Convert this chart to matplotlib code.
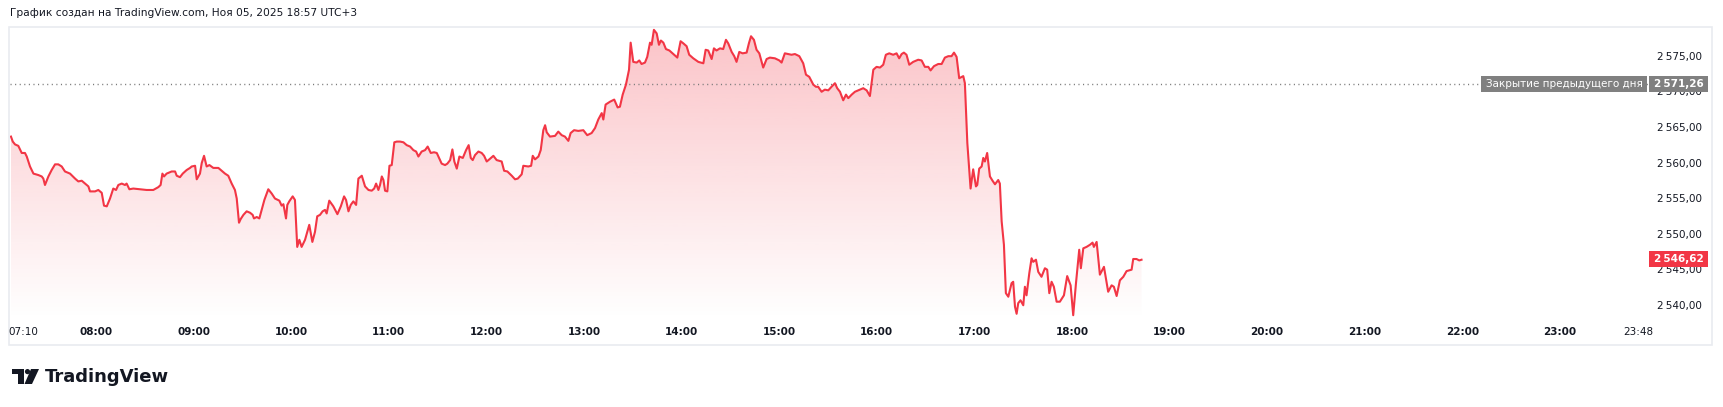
import numpy as np
import matplotlib.pyplot as plt
from matplotlib.patches import Rectangle, Polygon, Circle
from matplotlib.transforms import blended_transform_factory
from matplotlib.colors import to_rgb

plt.rcParams['font.family'] = ['DejaVu Sans']

W, H = 1724, 407
RED = '#f23645'
GRAY = '#808080'
TEXT = '#131722'

title = 'График создан на TradingView.com, Ноя 05, 2025 18:57 UTC+3'
prev_close = 2571.26
last_price = 2546.62
price_ticks = [2540, 2545, 2550, 2555, 2560, 2565, 2570, 2575]
time_ticks = ['07:10', '08:00', '09:00', '10:00', '11:00', '12:00', '13:00', '14:00', '15:00',
              '16:00', '17:00', '18:00', '19:00', '20:00', '21:00', '22:00', '23:00', '23:48']

# minutes after 07:00
minutes = [
    7.7, 8.8, 10.2, 12.2, 14.3, 16.3, 17.4, 19.4, 21.5, 24.5, 26.6, 27.6, 28.6, 30.7, 32.7, 34.8,
    36.8, 38.9, 40.9, 44.0, 47.1, 49.1, 51.2, 53.2, 55.3, 56.3, 59.4, 61.4, 63.5, 64.9, 66.6, 68.6,
    70.6, 72.3, 73.7, 75.8, 77.8, 78.8, 80.5, 82.9, 87.0, 91.1, 95.2, 98.3, 99.7, 100.8, 101.8, 103.4,
    106.5, 108.6, 109.6, 111.6, 113.3, 115.7, 117.8, 118.8, 120.9, 121.9, 123.9, 125.0, 126.4, 128.0,
    129.7, 132.1, 135.2, 137.2, 139.3, 141.3, 143.4, 145.4, 146.5, 147.9, 148.9, 150.6, 152.6, 154.7,
    156.3, 157.1, 158.8, 160.4, 161.8, 163.5, 165.9, 168.0, 170.0, 172.7, 174.1, 175.2, 176.8, 177.6,
    178.8, 180.9, 182.3, 183.7, 185.0, 186.4, 188.5, 191.1, 193.0, 194.6, 196.0, 197.7, 199.3, 200.8,
    201.8, 203.4,
    205.9, 208.4, 210.5, 212.5, 213.7, 215.2, 216.6, 218.2, 219.9, 221.3, 223.4, 225.4, 227.5, 229.5,
    231.0, 232.2, 233.6, 234.6, 235.7, 236.7, 237.7, 239.1, 240.4, 241.8, 243.4, 244.9, 246.9, 249.0,
    251.0, 253.1, 255.1, 256.8, 258.2, 260.2, 262.3, 263.9, 265.8, 267.8, 269.5, 272.5, 274.6, 276.0,
    277.7, 279.1, 280.3, 281.8, 283.4, 285.5, 287.5, 289.1, 290.4, 291.6, 293.0, 295.1, 297.1, 298.6,
    300.2, 301.8, 304.3, 306.3, 309.4, 310.9, 312.9, 315.6, 317.6, 319.3, 321.7, 322.7, 325.8, 327.5,
    328.5, 329.9, 332.0, 333.4, 335.0, 336.1, 337.1, 339.1,
    342.2, 344.2, 346.3, 348.3, 350.4, 351.8, 353.9, 356.5, 359.6, 362.0, 364.7, 366.8, 368.8, 370.9,
    371.9, 373.3, 376.0, 378.6, 380.7, 382.1, 383.8, 385.8, 387.7, 388.7, 390.3, 392.4, 394.0, 395.4,
    397.5, 398.9, 400.6, 401.6, 403.0, 404.7, 406.1, 407.3, 408.8, 410.4, 412.5, 414.9, 417.4, 419.4,
    421.1, 423.1, 424.7, 427.2, 430.3, 433.4, 434.8, 436.4, 438.5, 439.9, 441.5, 443.6, 445.6, 447.3,
    448.7, 450.8, 452.4, 453.8, 455.5, 457.5, 460.0, 461.4, 462.7, 464.5, 466.1, 467.8, 470.2, 472.3,
    474.3, 477.4, 480.1, 481.5, 483.5, 485.6, 487.6, 489.7, 492.4, 494.8, 496.5, 498.5, 501.0, 502.6,
    504.0, 506.1, 508.1, 510.2, 512.2, 514.3, 515.7, 517.4, 519.4, 521.1, 522.5, 524.6, 526.6, 528.6,
    531.7, 533.8, 535.8, 537.9, 539.9, 542.0, 544.0, 545.6, 547.7, 550.1, 552.2, 553.8, 555.3, 556.7,
    558.3, 560.0, 562.4, 565.5, 567.6, 569.6, 571.7, 573.1, 575.2, 577.8, 579.9, 581.9, 584.0, 586.0,
    587.5, 589.1, 590.7, 593.2, 594.2,
    595.7, 596.9, 597.7, 599.3, 601.0, 601.8, 603.0, 604.5, 605.5, 606.5, 607.9, 609.6, 611.2, 612.7,
    614.7, 615.7, 616.8, 618.2, 619.4, 620.9, 622.9, 623.9, 625.0, 626.0, 627.0, 628.4, 630.1, 631.1,
    632.1, 633.8, 635.2, 636.2, 637.9, 639.3, 641.3, 643.4, 644.8, 646.1, 647.5, 648.9, 650.6, 652.6,
    655.1, 657.1, 659.2, 660.8, 662.5, 664.5, 665.5, 667.0, 669.0, 671.1, 672.7, 673.5, 675.2, 677.2,
    679.7, 682.3, 684.4, 685.8, 687.5, 689.5, 691.6, 693.6, 696.7, 697.7, 699.7, 701.4, 702.8,
]

prices = [
    2563.8, 2563.1, 2562.7, 2562.5, 2561.5, 2561.5, 2561.0, 2559.6, 2558.6, 2558.4, 2558.2, 2557.9,
    2557.0, 2558.2, 2559.1, 2559.9, 2559.9, 2559.6, 2558.9, 2558.6, 2557.9, 2557.5, 2557.6, 2557.2,
    2556.8, 2556.1, 2556.1, 2556.3, 2555.9, 2554.1, 2554.0, 2555.1, 2556.5, 2556.3, 2557.0, 2557.2,
    2557.0, 2557.2, 2556.4, 2556.5, 2556.4, 2556.3, 2556.3, 2556.7, 2557.0, 2558.6, 2558.2, 2558.6,
    2558.9, 2558.9, 2558.3, 2558.1, 2558.6, 2559.1, 2559.4, 2559.6, 2559.7, 2557.8, 2558.6, 2560.1,
    2561.1, 2559.6, 2559.8, 2559.4, 2559.4, 2559.0, 2558.6, 2558.3, 2557.2, 2556.3, 2555.1, 2551.7,
    2552.2, 2552.8, 2553.3, 2553.1, 2552.8, 2552.3, 2552.5, 2552.3, 2553.5, 2554.9, 2556.4, 2555.8,
    2555.1, 2554.8, 2554.1, 2554.3, 2552.3, 2554.2, 2554.7, 2555.4, 2554.9, 2548.3, 2549.3, 2548.3,
    2549.3, 2551.4, 2549.0, 2550.4, 2552.6, 2552.8, 2553.3, 2553.5, 2553.0, 2554.8,
    2554.0, 2552.9, 2554.0, 2555.4, 2554.9, 2553.3, 2554.2, 2554.7, 2554.2, 2557.9, 2558.3, 2556.8,
    2556.3, 2556.2, 2556.5, 2557.2, 2556.3, 2557.0, 2558.2, 2557.7, 2556.2, 2556.1, 2559.7, 2559.8,
    2563.0, 2563.1, 2563.1, 2563.0, 2562.6, 2562.4, 2561.9, 2561.7, 2561.0, 2561.7, 2561.9, 2562.4,
    2561.5, 2561.6, 2561.5, 2560.0, 2559.8, 2560.0, 2560.5, 2562.0, 2560.3, 2559.3, 2561.0, 2560.8,
    2561.9, 2562.6, 2560.8, 2560.5, 2561.2, 2561.7, 2561.5, 2561.1, 2560.3, 2560.6, 2561.1, 2560.5,
    2560.3, 2559.0, 2558.9, 2558.3, 2557.8, 2557.9, 2558.5, 2559.7, 2559.6, 2559.7, 2561.1, 2560.6,
    2561.0, 2561.9, 2564.7, 2565.4, 2564.4, 2563.8,
    2563.9, 2564.5, 2564.0, 2563.8, 2563.2, 2564.3, 2564.7, 2564.6, 2564.7, 2564.0, 2564.3, 2565.0,
    2566.2, 2567.1, 2566.2, 2568.3, 2568.7, 2569.0, 2567.9, 2568.0, 2569.7, 2571.1, 2573.2, 2577.0,
    2574.3, 2574.2, 2574.5, 2574.0, 2574.2, 2575.0, 2577.0, 2576.7, 2578.8, 2578.3, 2576.7, 2577.3,
    2577.0, 2576.1, 2575.9, 2575.4, 2574.9, 2577.2, 2576.9, 2576.5, 2575.3, 2574.8, 2574.3, 2574.1,
    2576.0, 2575.9, 2574.7, 2576.2, 2575.9, 2576.2, 2576.1, 2577.4, 2576.9, 2575.7, 2575.1, 2574.3,
    2575.7, 2575.5, 2575.6, 2576.9, 2577.9, 2577.4, 2576.0, 2575.5, 2573.5, 2574.7, 2574.9, 2574.8,
    2574.5, 2574.2, 2575.5, 2575.4, 2575.3, 2575.4, 2575.1, 2574.1, 2572.5, 2572.2, 2571.1, 2570.8,
    2570.8, 2570.1, 2570.4, 2570.3, 2570.8, 2571.3, 2570.6, 2570.1, 2568.9, 2569.7, 2569.2, 2569.7,
    2570.1, 2570.3, 2570.6, 2570.3, 2569.5, 2573.2, 2573.6, 2573.5, 2573.9, 2575.3, 2575.5, 2575.3,
    2575.5, 2574.8, 2575.4, 2575.6, 2575.3, 2573.9, 2574.3, 2574.6, 2574.5, 2573.6, 2573.6, 2573.1,
    2573.7, 2574.0, 2574.0, 2574.9, 2575.1, 2575.1, 2575.6, 2575.0, 2572.0, 2572.3, 2571.3,
    2562.9, 2559.1, 2556.5, 2559.2, 2556.8, 2557.0, 2559.3, 2559.6, 2560.8, 2560.3, 2561.5, 2558.2,
    2557.6, 2557.1, 2557.7, 2557.2, 2551.9, 2548.6, 2541.8, 2541.3, 2543.2, 2543.4, 2539.9, 2538.9,
    2540.4, 2540.8, 2540.1, 2542.7, 2541.5, 2544.6, 2546.7, 2546.2, 2546.5, 2544.8, 2544.1, 2545.3,
    2545.1, 2541.8, 2543.4, 2542.7, 2540.6, 2540.6, 2541.5, 2544.2, 2542.9, 2538.7, 2543.2, 2547.9,
    2545.3, 2548.1, 2548.3, 2548.6, 2548.9, 2548.3, 2549.0, 2544.4, 2545.5, 2542.0, 2542.9, 2542.7,
    2541.4, 2543.6, 2544.1, 2544.9, 2545.1, 2546.6, 2546.6, 2546.4, 2546.5,
]


def hhmm(label):
    h, m = label.split(':')
    return int(h) * 60 + int(m)


def price_fmt(v):
    s = '{:,.2f}'.format(v)
    return s.replace(',', '\u202f').replace('.', ',')


x = 7 * 60 + np.array(minutes)
y = np.array(prices)

fig = plt.figure(figsize=(W / 100, H / 100), dpi=100)
fig.patch.set_facecolor('white')

# background layer in pixel coords: frame, title, logo
bg = fig.add_axes([0, 0, 1, 1], zorder=0)
bg.set_xlim(0, W)
bg.set_ylim(H, 0)
bg.axis('off')
bg.add_patch(Rectangle((9.5, 26.5), 1703, 318, fill=False, ec='#e9ebf0', lw=1.2))
bg.text(10, 13.5, title, fontsize=7.7, color=TEXT, va='center', ha='left')

# TradingView logo
bg.add_patch(Polygon([(12, 369), (24, 369), (24, 384), (18, 384), (18, 374), (12, 374)],
                     closed=True, fc=TEXT, ec='none'))
bg.add_patch(Circle((27.5, 371.6), 2.6, fc=TEXT, ec='none'))
bg.add_patch(Polygon([(31, 369), (39, 369), (32, 384), (24.5, 384)], closed=True, fc=TEXT, ec='none'))
bg.text(45, 376.5, 'TradingView', fontsize=13, fontweight='bold', color=TEXT,
        va='center', ha='left')

# main chart pane
ax = fig.add_axes([10 / W, (H - 319) / H, 1638 / W, 292 / H], zorder=2)
ax.set_facecolor('none')
x_lo, x_hi = 427.1, 1434.2
y_lo, y_hi = 2538.17, 2579.2

# gradient area under the line
grad = np.zeros((256, 1, 4))
grad[..., :3] = to_rgb(RED)
grad[..., 3] = np.linspace(0.0, 0.30, 256)[:, None]
im = ax.imshow(grad, extent=[x[0], x[-1], y_lo, y_hi], origin='lower', aspect='auto',
               interpolation='bilinear', zorder=1)
area = ax.fill_between(x, y, y_lo, color='none', lw=0)
im.set_clip_path(area.get_paths()[0], transform=ax.transData)

ax.plot(x, y, color=RED, lw=1.5, solid_joinstyle='round', zorder=3)
ax.axhline(prev_close, color='#7a7a7a', lw=1, ls=(0, (0.8, 2.5)), zorder=2)

ax.set_xlim(x_lo, x_hi)
ax.set_ylim(y_lo, y_hi)
for s in ax.spines.values():
    s.set_visible(False)
ax.set_xticks([])
ax.set_yticks([])

ax_w = 1638.0
to_ax = blended_transform_factory(ax.transAxes, ax.transData)
to_tx = blended_transform_factory(ax.transData, ax.transAxes)

# price scale
for p in price_ticks:
    ax.text(1 + 54 / ax_w, p, price_fmt(p), transform=to_ax, ha='right', va='center',
            fontsize=7.5, color=TEXT, clip_on=False, zorder=4)

# time scale
for lab in time_ticks:
    if lab == time_ticks[0]:
        ax.text(-2 / ax_w, -13 / 292, lab, transform=ax.transAxes, ha='left', va='center',
                fontsize=7.5, color=TEXT, clip_on=False)
    else:
        minor = lab == time_ticks[-1]
        ax.text(hhmm(lab), -13 / 292, lab, transform=to_tx, ha='center', va='center',
                fontsize=7.5, color=TEXT, fontweight='normal' if minor else 'bold',
                clip_on=False)

# price labels on the scale
box_h = 16 / 7.114
ax.add_patch(Rectangle((1471 / ax_w, prev_close - box_h / 2), 166 / ax_w, box_h, transform=to_ax,
                       fc=GRAY, ec='none', clip_on=False, zorder=5))
ax.text((1471 + 83) / ax_w, prev_close, 'Закрытие предыдущего дня', transform=to_ax,
        ha='center', va='center', fontsize=7.5, color='white', clip_on=False, zorder=6)
for val, col in [(prev_close, GRAY), (last_price, RED)]:
    ax.add_patch(Rectangle((1 + 1 / ax_w, val - box_h / 2), 59 / ax_w, box_h, transform=to_ax,
                           fc=col, ec='none', clip_on=False, zorder=5))
    ax.text(1 + 30.5 / ax_w, val, price_fmt(val), transform=to_ax, ha='center', va='center',
            fontsize=7.5, color='white', fontweight='bold', clip_on=False, zorder=6)

fig.savefig('out.png', dpi=100, facecolor='white')
